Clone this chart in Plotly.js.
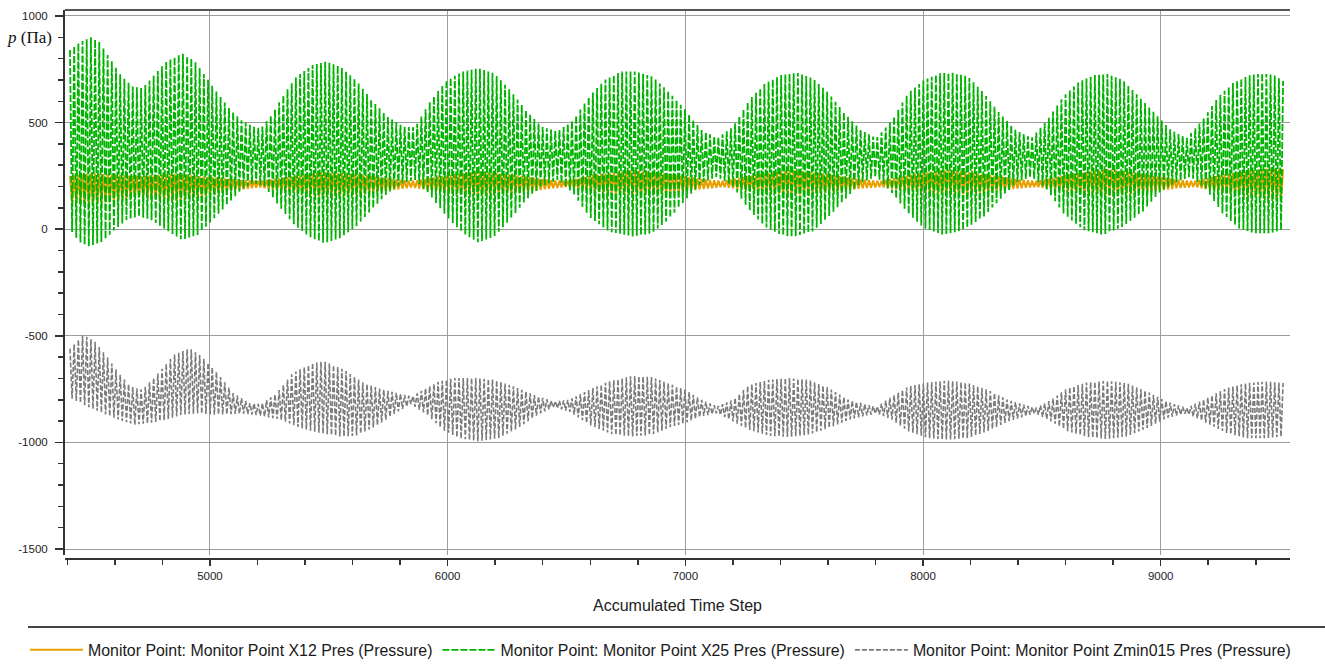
<!DOCTYPE html>
<html>
<head>
<meta charset="utf-8">
<script src="https://cdn.plot.ly/plotly-3.0.1.min.js"></script>
<style>
  html, body { margin: 0; padding: 0; background: #ffffff; }
  #chart { width: 1325px; height: 664px; }
</style>
</head>
<body>
<div id="chart"></div>
<script>
// Monitor point pressure history, p (Pa) against accumulated time step.
const seriesNames = [
  'Monitor Point: Monitor Point X12 Pres (Pressure)',
  'Monitor Point: Monitor Point X25 Pres (Pressure)',
  'Monitor Point: Monitor Point Zmin015 Pres (Pressure)'
];

const xTickValues = [5000, 6000, 7000, 8000, 9000];
const xTickLabels = ['5000', '6000', '7000', '8000', '9000'];
const yTickValues = [-1500, -1000, -500, 0, 500, 1000];
const yTickLabels = ['-1500', '-1000', '-500', '0', '500', '1000'];

// Recorded interval of the run
const firstStep = 4411;
const lastStep = 9522;

// Time steps between successive crest and trough of each signal
const x12HalfPeriod = 8.8;
const x25HalfPeriod = 8.8;
const zminHalfPeriod = 8.8;

// Crest (upper) and trough (lower) envelopes, [time step, p]
const x12Upper = [[4411,250],[4500,262],[4700,248],[4850,260],[5000,245],[5120,232],[5210,226],[5300,240],[5470,268],[5620,258],[5760,236],[5850,226],[5960,246],[6130,272],[6300,252],[6430,230],[6500,226],[6620,256],[6790,276],[6950,255],[7090,232],[7160,226],[7300,256],[7450,278],[7610,256],[7750,232],[7820,226],[7960,258],[8110,280],[8270,256],[8410,232],[8480,226],[8620,258],[8780,282],[8940,256],[9070,232],[9140,226],[9280,260],[9450,285],[9522,280]];
const x12Lower = [[4411,125],[4500,115],[4700,150],[4850,130],[5000,160],[5120,185],[5210,196],[5300,180],[5470,150],[5620,158],[5760,182],[5850,196],[5960,175],[6130,155],[6300,170],[6430,190],[6500,198],[6620,175],[6790,158],[6950,170],[7090,190],[7160,198],[7300,175],[7450,160],[7610,172],[7750,192],[7820,198],[7960,175],[8110,160],[8270,172],[8410,192],[8480,198],[8620,175],[8780,155],[8940,172],[9070,192],[9140,198],[9280,170],[9450,140],[9522,138]];

const x25Upper = [[4411,840],[4440,870],[4499,900],[4533,880],[4583,794],[4624,723],[4674,669],[4716,661],[4766,723],[4815,786],[4882,825],[4932,794],[4982,716],[5032,638],[5081,567],[5131,512],[5181,481],[5215,473],[5264,544],[5314,638],[5364,716],[5431,770],[5489,786],[5547,763],[5614,700],[5680,606],[5747,528],[5813,481],[5863,478],[5930,606],[5996,700],[6063,739],[6129,755],[6196,731],[6262,653],[6329,559],[6395,481],[6462,458],[6528,512],[6595,622],[6661,700],[6728,739],[6794,739],[6861,716],[6930,645],[7000,560],[7067,466],[7134,427],[7201,481],[7268,606],[7335,684],[7402,723],[7469,734],[7536,708],[7603,638],[7670,544],[7737,466],[7804,427],[7870,512],[7937,638],[8004,700],[8071,731],[8122,734],[8189,716],[8256,638],[8322,544],[8389,466],[8456,427],[8523,512],[8590,622],[8657,692],[8724,723],[8774,728],[8841,700],[8908,622],[8975,544],[9042,466],[9109,427],[9176,512],[9243,622],[9310,692],[9377,723],[9427,731],[9477,723],[9522,690]];
const x25Lower = [[4411,0],[4450,-60],[4491,-81],[4549,-58],[4599,-3],[4649,44],[4700,60],[4750,45],[4815,-3],[4882,-50],[4948,-27],[4998,28],[5065,106],[5131,184],[5181,216],[5231,200],[5281,122],[5348,28],[5414,-34],[5481,-66],[5547,-42],[5614,12],[5680,91],[5747,169],[5813,216],[5863,231],[5930,153],[5996,59],[6063,-19],[6129,-62],[6196,-34],[6262,44],[6329,137],[6395,200],[6462,231],[6528,169],[6595,59],[6678,-11],[6778,-34],[6861,-19],[6933,50],[7000,137],[7067,216],[7134,247],[7201,200],[7268,91],[7335,12],[7402,-27],[7452,-37],[7536,-11],[7603,59],[7670,137],[7737,216],[7804,247],[7870,169],[7937,75],[8004,5],[8087,-27],[8171,-3],[8256,59],[8322,137],[8389,216],[8456,247],[8523,184],[8590,75],[8674,-3],[8758,-27],[8841,12],[8925,83],[8992,169],[9059,216],[9126,247],[9193,184],[9260,75],[9327,5],[9394,-19],[9461,-19],[9522,0]];

const zminUpper = [[4411,-560],[4466,-495],[4516,-527],[4566,-597],[4616,-675],[4666,-738],[4716,-753],[4782,-675],[4849,-589],[4915,-558],[4965,-597],[5032,-675],[5098,-769],[5165,-815],[5215,-820],[5281,-769],[5348,-675],[5431,-628],[5481,-620],[5564,-659],[5647,-722],[5730,-753],[5813,-775],[5850,-785],[5896,-753],[5963,-714],[6029,-698],[6113,-698],[6196,-706],[6279,-738],[6362,-777],[6445,-808],[6512,-800],[6595,-753],[6678,-714],[6778,-688],[6861,-694],[6933,-725],[7000,-753],[7067,-800],[7134,-831],[7201,-800],[7268,-730],[7352,-706],[7435,-698],[7519,-706],[7603,-745],[7686,-800],[7804,-834],[7870,-784],[7937,-738],[8021,-719],[8105,-709],[8189,-722],[8272,-753],[8356,-800],[8473,-839],[8540,-800],[8607,-745],[8690,-719],[8774,-711],[8858,-722],[8942,-761],[9025,-808],[9109,-839],[9193,-792],[9277,-745],[9360,-722],[9444,-714],[9522,-722]];
const zminLower = [[4411,-790],[4483,-831],[4549,-863],[4616,-894],[4682,-917],[4749,-909],[4815,-894],[4882,-870],[4948,-863],[5015,-870],[5081,-868],[5148,-865],[5215,-875],[5298,-894],[5381,-933],[5464,-956],[5547,-972],[5614,-969],[5697,-925],[5780,-863],[5846,-820],[5913,-870],[5980,-941],[6046,-980],[6129,-995],[6213,-980],[6296,-933],[6379,-870],[6445,-835],[6512,-855],[6595,-917],[6695,-964],[6778,-972],[6861,-964],[6933,-930],[7000,-909],[7067,-878],[7134,-863],[7201,-902],[7268,-941],[7352,-969],[7435,-975],[7519,-964],[7603,-933],[7686,-894],[7804,-863],[7870,-894],[7937,-947],[8021,-980],[8105,-987],[8189,-980],[8272,-947],[8356,-902],[8473,-863],[8540,-902],[8607,-947],[8690,-975],[8774,-984],[8858,-972],[8942,-933],[9025,-886],[9109,-863],[9193,-909],[9277,-956],[9360,-980],[9444,-980],[9522,-972]];

// Envelope value at a given step (straight segments between the listed steps)
function envelopeAt(pairs, step) {
  if (step <= pairs[0][0]) return pairs[0][1];
  for (let i = 1; i < pairs.length; i++) {
    const [s1, v1] = pairs[i];
    if (step <= s1) {
      const [s0, v0] = pairs[i - 1];
      return v0 + (v1 - v0) * (step - s0) / (s1 - s0);
    }
  }
  return pairs[pairs.length - 1][1];
}

// Alternate crest and trough once per half period across the run
function swingSeries(upper, lower, halfPeriod) {
  const steps = [], values = [];
  for (let k = 0; ; k++) {
    const step = firstStep + k * halfPeriod;
    if (step > lastStep) break;
    steps.push(step);
    values.push(k % 2 === 0 ? envelopeAt(upper, step) : envelopeAt(lower, step));
  }
  return { steps, values };
}

const x12 = swingSeries(x12Upper, x12Lower, x12HalfPeriod);
const x25 = swingSeries(x25Upper, x25Lower, x25HalfPeriod);
const zmin = swingSeries(zminUpper, zminLower, zminHalfPeriod);

const traces = [
  { type: 'scatter', mode: 'lines', name: seriesNames[0], x: x12.steps, y: x12.values,
    line: { color: '#e8a000', width: 2 } },
  { type: 'scatter', mode: 'lines', name: seriesNames[1], x: x25.steps, y: x25.values,
    line: { color: '#00b300', width: 1.8, dash: '7px,2px' } },
  { type: 'scatter', mode: 'lines', name: seriesNames[2], x: zmin.steps, y: zmin.values,
    line: { color: '#7b7b7b', width: 1.6, dash: '5px,2px' } }
];

const W = 1325, H = 664;
const M = { l: 65, r: 35, t: 10, b: 105, autoexpand: false };
const plotW = W - M.l - M.r;
const plotH = H - M.t - M.b;
const px2paperX = px => (px - M.l) / plotW;
const px2paperY = py => (H - M.b - py) / plotH;

const sans = 'Liberation Sans, Arial, sans-serif';
const tickFont = { family: sans, size: 11.5, color: '#222' };

const layout = {
  width: W, height: H,
  margin: M,
  paper_bgcolor: '#ffffff',
  plot_bgcolor: '#ffffff',
  showlegend: true,
  xaxis: {
    range: [4390, 9544],
    tickmode: 'array', tickvals: xTickValues, ticktext: xTickLabels,
    showgrid: true, gridcolor: '#9c9c9c', gridwidth: 1,
    zeroline: false,
    showline: true, linecolor: '#333', linewidth: 2,
    ticks: 'outside', ticklen: 6, tickwidth: 1.5, tickcolor: '#333',
    tickfont: tickFont,
    minor: { dtick: 200, tick0: 0, ticks: 'outside', ticklen: 5, tickwidth: 1.5, tickcolor: '#333', showgrid: false },
    anchor: 'free', position: 0,
    title: { text: 'Accumulated Time Step', font: { family: sans, size: 16, color: '#222' }, standoff: 18 }
  },
  yaxis: {
    domain: [px2paperY(555), 1],
    range: [-1528, 1028],
    tickmode: 'array', tickvals: yTickValues, ticktext: yTickLabels,
    showgrid: true, gridcolor: '#9c9c9c', gridwidth: 1,
    zeroline: false,
    showline: true, linecolor: '#333', linewidth: 2,
    ticks: 'outside', ticklen: 8, tickwidth: 1.5, tickcolor: '#333',
    ticklabelstandoff: 5,
    tickfont: tickFont,
    minor: { dtick: 100, tick0: 0, ticks: 'outside', ticklen: 5, tickwidth: 1.5, tickcolor: '#333', showgrid: false }
  },
  legend: {
    orientation: 'h',
    x: px2paperX(25), xanchor: 'left',
    y: px2paperY(650), yanchor: 'middle',
    font: { family: sans, size: 15.9, color: '#1a1a1a' },
    itemwidth: 53,
    bgcolor: 'rgba(0,0,0,0)'
  },
  shapes: [
    { type: 'line', xref: 'paper', yref: 'paper', x0: 0, x1: 1, y0: 1, y1: 1,
      line: { color: '#555', width: 2 } },
    { type: 'line', xref: 'paper', yref: 'paper', x0: px2paperX(28), x1: px2paperX(1325),
      y0: px2paperY(627), y1: px2paperY(627), line: { color: '#444', width: 2 } }
  ],
  annotations: [
    { xref: 'paper', yref: 'y', x: px2paperX(54), y: 900, xanchor: 'right', yanchor: 'middle',
      showarrow: false, text: '<i>p</i> (Па)',
      font: { family: 'Liberation Serif, DejaVu Serif, serif', size: 17, color: '#111' } }
  ]
};

Plotly.newPlot('chart', traces, layout, { displayModeBar: false, staticPlot: true });
</script>
</body>
</html>
